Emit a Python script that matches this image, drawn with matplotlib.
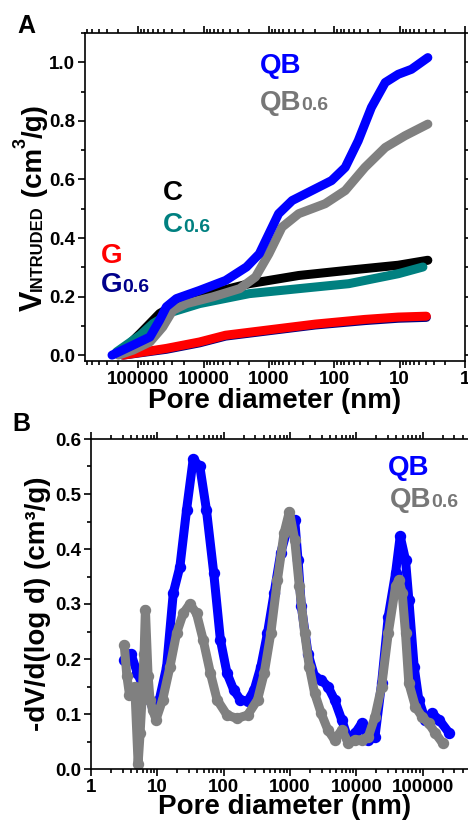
import matplotlib
matplotlib.use('Agg')
import matplotlib.pyplot as plt
from matplotlib.ticker import LogLocator, NullFormatter, MultipleLocator
from matplotlib.transforms import IdentityTransform

plt.rcParams['font.family'] = ['Liberation Sans', 'DejaVu Sans']
plt.rcParams['font.weight'] = 'bold'
plt.rcParams['axes.labelweight'] = 'bold'
plt.rcParams['axes.linewidth'] = 1.2

# ---- panel A: cumulative intruded volume (cm3/g) vs pore diameter (nm)
qb_d = [251000, 120000, 66000, 47000, 37000, 26000, 11500, 4600, 2200, 1400, 1000,
        710, 440, 220, 110, 68, 43, 27, 16.6, 10.5, 6.6, 3.7]
qb_v = [0.0, 0.034, 0.062, 0.119, 0.165, 0.193, 0.221, 0.255, 0.301, 0.346, 0.414,
        0.483, 0.528, 0.562, 0.596, 0.641, 0.732, 0.846, 0.931, 0.959, 0.976, 1.016]

qb6_d = [200000, 120000, 66000, 42000, 29500, 18200, 7200, 2800, 1600, 1000,
         630, 350, 138, 68, 34, 16.6, 8.3, 3.7]
qb6_v = [0.0, 0.017, 0.045, 0.096, 0.153, 0.176, 0.199, 0.227, 0.267, 0.346,
         0.437, 0.483, 0.517, 0.562, 0.641, 0.709, 0.749, 0.789]

c_d = [190000, 93000, 47000, 26000, 8100, 2000, 350, 60, 10.5, 3.7]
c_v = [0.006, 0.074, 0.142, 0.176, 0.21, 0.244, 0.272, 0.29, 0.307, 0.324]

c6_d = [214000, 93000, 59000, 29500, 11500, 2000, 350, 60, 10.5, 4.4]
c6_v = [0.011, 0.068, 0.108, 0.148, 0.176, 0.21, 0.227, 0.244, 0.278, 0.301]

g_d = [170000, 37000, 11500, 4600, 1120, 195, 34, 10.5, 3.9]
g_v = [0.0, 0.023, 0.045, 0.068, 0.085, 0.106, 0.122, 0.13, 0.133]

g6_d = [170000, 37000, 11500, 4600, 1120, 195, 34, 10.5, 3.9]
g6_v = [0.0, 0.02, 0.042, 0.065, 0.082, 0.103, 0.118, 0.126, 0.129]

# ---- panel B: -dV/d(log d) vs pore diameter (nm), x given as log10(d)
qbB_logd = [0.50, 0.60, 0.70, 0.83, 0.93, 1.03, 1.14, 1.24, 1.34, 1.44, 1.54, 1.64,
            1.74, 1.85, 1.95, 2.05, 2.15, 2.25, 2.36, 2.46, 2.56, 2.66, 2.76, 2.86,
            2.97, 3.07, 3.12, 3.17, 3.27, 3.37, 3.47, 3.57, 3.67, 3.78, 3.88, 3.98,
            4.08, 4.18, 4.28, 4.38, 4.48, 4.59, 4.66, 4.74, 4.79, 4.87, 4.94, 5.04,
            5.14, 5.25, 5.40]
qbB_v = [0.198, 0.21, 0.174, 0.138, 0.113, 0.126, 0.186, 0.32, 0.368, 0.471, 0.563, 0.55,
         0.471, 0.356, 0.235, 0.174, 0.144, 0.126, 0.123, 0.144, 0.186, 0.247, 0.32, 0.393,
         0.441, 0.453, 0.38, 0.296, 0.21, 0.168, 0.162, 0.15, 0.126, 0.089, 0.053, 0.065,
         0.083, 0.053, 0.059, 0.156, 0.277, 0.356, 0.423, 0.38, 0.308, 0.186, 0.126, 0.089,
         0.101, 0.089, 0.065]

qb6B_logd = [0.50, 0.54, 0.58, 0.66, 0.71, 0.74, 0.77, 0.80, 0.82, 0.86, 0.89, 0.93,
             0.98, 1.08, 1.19, 1.29, 1.39, 1.49, 1.59, 1.69, 1.80, 1.90, 2.05, 2.20,
             2.36, 2.51, 2.61, 2.71, 2.81, 2.91, 2.99, 3.07, 3.14, 3.22, 3.29, 3.37,
             3.47, 3.57, 3.67, 3.78, 3.88, 3.98, 4.08, 4.18, 4.28, 4.38, 4.48, 4.59,
             4.64, 4.69, 4.74, 4.79, 4.89, 4.99, 5.09, 5.19, 5.30]
qb6B_v = [0.226, 0.17, 0.135, 0.15, 0.01, 0.065, 0.13, 0.21, 0.29, 0.17, 0.125, 0.107,
          0.09, 0.126, 0.186, 0.247, 0.283, 0.30, 0.283, 0.235, 0.174, 0.126, 0.098, 0.092,
          0.098, 0.126, 0.174, 0.247, 0.344, 0.429, 0.468, 0.417, 0.332, 0.247, 0.186, 0.138,
          0.101, 0.071, 0.053, 0.071, 0.047, 0.053, 0.053, 0.059, 0.095, 0.15, 0.247, 0.332,
          0.344, 0.32, 0.247, 0.156, 0.113, 0.095, 0.083, 0.065, 0.047]

W, H = 468, 821
fig = plt.figure(figsize=(W / 100, H / 100), dpi=100)
axA = fig.add_axes([85 / W, 1 - 361 / H, (465 - 85) / W, (361 - 33) / H])
axB = fig.add_axes([91 / W, 1 - 769 / H, (478 - 91) / W, (769 - 439) / H])

lw = 6.5
line_kw = dict(lw=lw, solid_capstyle='round', solid_joinstyle='round')
axA.plot(g6_d, g6_v, color='#000080', **line_kw)
axA.plot(g_d, g_v, color='#ff0000', **line_kw)
axA.plot(c_d, c_v, color='black', **line_kw)
axA.plot(c6_d, c6_v, color='#008080', **line_kw)
axA.plot(qb6_d, qb6_v, color='#808080', **line_kw)
axA.plot(qb_d, qb_v, color='#0000ff', **line_kw)

tick_font = dict(fontsize=13.5, fontweight='bold')

axA.set_xscale('log')
axA.set_xlim(6.5e5, 1)
axA.set_ylim(-0.02, 1.1)
axA.set_xticks([1e5, 1e4, 1e3, 100, 10, 1])
axA.set_xticklabels(['100000', '10000', '1000', '100', '10', '1'], **tick_font)
axA.yaxis.set_minor_locator(MultipleLocator(0.1))
axA.set_yticks([0, 0.2, 0.4, 0.6, 0.8, 1.0])
axA.set_yticklabels(['0.0', '0.2', '0.4', '0.6', '0.8', '1.0'], **tick_font)
axA.set_xlabel('Pore diameter (nm)', fontsize=20, fontweight='bold', labelpad=0)

qbB_d = [10 ** v for v in qbB_logd]
qb6B_d = [10 ** v for v in qb6B_logd]
for d, v, col in [(qbB_d, qbB_v, '#0000ff'), (qb6B_d, qb6B_v, '#808080')]:
    axB.plot(d, v, color=col, **line_kw)
    axB.plot(d, v, 'o', color=col, ms=7.2, mec=col)

axB.set_xscale('log')
axB.set_xlim(1, 6.8e5)
axB.set_ylim(0, 0.6)
axB.set_xticks([1, 10, 100, 1000, 1e4, 1e5])
axB.set_xticklabels(['1', '10', '100', '1000', '10000', '100000'], **tick_font)
axB.set_yticks([0, 0.1, 0.2, 0.3, 0.4, 0.5, 0.6])
axB.set_yticklabels(['0.0', '0.1', '0.2', '0.3', '0.4', '0.5', '0.6'], **tick_font)
axB.yaxis.set_minor_locator(MultipleLocator(0.05))
axB.set_xlabel('Pore diameter (nm)', fontsize=20, fontweight='bold', labelpad=-1)
axB.set_ylabel('-dV/d(log d) (cm\u00b3/g)', fontsize=20, fontweight='bold', labelpad=3)

for ax in (axA, axB):
    ax.xaxis.set_minor_locator(LogLocator(base=10, subs=range(2, 10), numticks=20))
    ax.xaxis.set_minor_formatter(NullFormatter())
    ax.tick_params(which='both', direction='out', top=True, right=True, width=1.2, pad=2)
    ax.tick_params(which='major', length=5)
    ax.tick_params(which='minor', length=3)

fig.canvas.draw()
rend = fig.canvas.get_renderer()


def put_parts(x, y, parts, rot=0):
    # parts: (text, size, colour, raise in px); x, y measured from the top-left in pixels
    px, py = x, H - y
    for s, size, col, up in parts:
        if rot == 0:
            tx, ty = px, py + up
        else:
            tx, ty = px - up, py
        t = fig.text(tx, ty, s, transform=IdentityTransform(), fontsize=size, color=col,
                     fontweight='bold', rotation=rot, rotation_mode='anchor',
                     ha='left', va='baseline')
        bb = t.get_window_extent(rend)
        if rot == 0:
            px += bb.width
        else:
            py += bb.height


put_parts(260, 73, [('QB', 20, '#0000ff', 0)])
put_parts(260, 110, [('QB', 20, '#777777', 0), ('0.6', 14, '#777777', 0)])
put_parts(163, 200, [('C', 20, 'black', 0)])
put_parts(163, 232, [('C', 20, '#008080', 0), ('0.6', 14, '#008080', 0)])
put_parts(101, 263, [('G', 20, '#ff0000', 0)])
put_parts(101, 292, [('G', 20, '#00008b', 0), ('0.6', 14, '#00008b', 0)])
put_parts(388, 475, [('QB', 20, '#0000ff', 0)])
put_parts(390, 507, [('QB', 20, '#777777', 0), ('0.6', 14, '#777777', 0)])

put_parts(42, 311, [('V', 22, 'black', 0), ('INTRUDED', 12, 'black', 0),
                    (' (cm', 20, 'black', 0), ('3', 13, 'black', 16),
                    ('/g)', 20, 'black', 0)], rot=90)

fig.text(17 / W, 1 - 14 / H, 'A', fontsize=18, fontweight='bold', va='top', ha='left')
fig.text(12 / W, 1 - 412 / H, 'B', fontsize=18, fontweight='bold', va='top', ha='left')

fig.savefig('out.png', dpi=100)
